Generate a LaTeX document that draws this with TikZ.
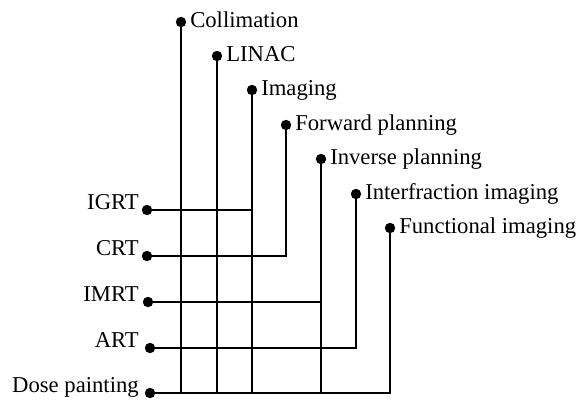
\documentclass[tikz,border=0pt]{standalone}
\usepackage{fontspec}
\setmainfont{Liberation Serif}
\usetikzlibrary{calc}
\begin{document}
\begin{tikzpicture}[x=0.75pt,y=-0.75pt,
  dot/.style={circle,fill=black,inner sep=0pt,minimum size=7.8pt},
  conn/.style={line width=0.85pt,black},
  lbl/.style={font=\fontsize{17}{20}\selectfont,inner sep=0pt}]
\useasboundingbox (0,0) rectangle (582,401);
% top dots
\node[dot] (col) at (181,22) {};
\node[dot] (lin) at (217,56) {};
\node[dot] (img) at (252,90) {};
\node[dot] (fwd) at (286,125) {};
\node[dot] (inv) at (321,159) {};
\node[dot] (ifr) at (356,194) {};
\node[dot] (fun) at (390,228) {};
\node[lbl,anchor=base west] (colT) at ($(col)+(9,5)$) {Collimation};
\node[lbl,anchor=base west] (linT) at ($(lin)+(9,5)$) {LINAC};
\node[lbl,anchor=base west] (imgT) at ($(img)+(9,5)$) {Imaging};
\node[lbl,anchor=base west] (fwdT) at ($(fwd)+(9,5)$) {Forward planning};
\node[lbl,anchor=base west] (invT) at ($(inv)+(9,5)$) {Inverse planning};
\node[lbl,anchor=base west] (ifrT) at ($(ifr)+(9,5)$) {Interfraction imaging};
\node[lbl,anchor=base west] (funT) at ($(fun)+(9,5)$) {Functional imaging};
% left dots
\node[dot] (igrt) at (147,210) {};
\node[dot] (crt) at (147,256) {};
\node[dot] (imrt) at (148,302) {};
\node[dot] (art) at (150,348) {};
\node[dot] (dose) at (150,393) {};
\node[lbl,anchor=base east] (igrtT) at (139,209) {IGRT};
\node[lbl,anchor=base east] (crtT) at (139,255) {CRT};
\node[lbl,anchor=base east] (imrtT) at (139,301) {IMRT};
\node[lbl,anchor=base east] (artT) at (139,347) {ART};
\node[lbl,anchor=base east] (doseT) at (139,392) {Dose painting};
% connectors
\draw[conn] (col) -- (col |- dose);
\draw[conn] (lin) -- (lin |- dose);
\draw[conn] (img) -- (img |- dose);
\draw[conn] (fwd) |- (crt);
\draw[conn] (inv) -- (inv |- dose);
\draw[conn] (ifr) |- (art);
\draw[conn] (fun) |- (dose);
\draw[conn] (igrt) -- (igrt -| img);
\draw[conn] (imrt) -- (imrt -| inv);
\end{tikzpicture}
\end{document}
